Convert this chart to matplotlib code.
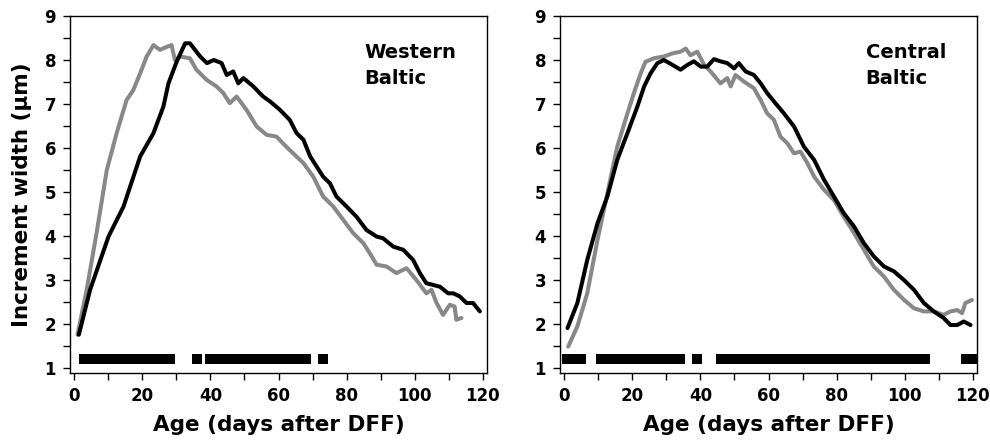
import matplotlib
matplotlib.use("Agg")
import matplotlib.pyplot as plt
from matplotlib.ticker import MultipleLocator

plt.rcParams['font.family'] = ['DejaVu Sans']
plt.rcParams['font.weight'] = 'bold'

# Western Baltic
west_black_x = [1.4, 4.7, 10.1, 14.5, 19.4, 23.3, 26.2, 27.7, 30.1, 32.6, 34, 37, 39, 41, 43.3, 44.8, 46.7, 48.2,
                49.7, 52.6, 55.5, 57.5, 60.4, 63.3, 65.3, 67.3, 69.3, 71.2, 73.1, 75.1, 77, 80, 82.9, 85.8, 88.8,
                90.7, 93.7, 96.6, 99.5, 101.5, 103.4, 105.4, 107.4, 109.8, 111.3, 113.2, 115.2, 117.1, 119.1]
west_black_y = [1.76, 2.78, 3.99, 4.67, 5.81, 6.34, 6.94, 7.47, 7.96, 8.38, 8.38, 8.08, 7.93, 8.0, 7.93, 7.66, 7.74,
                7.47, 7.59, 7.40, 7.17, 7.06, 6.87, 6.64, 6.34, 6.19, 5.81, 5.58, 5.35, 5.20, 4.9, 4.67, 4.44, 4.14,
                3.99, 3.95, 3.76, 3.69, 3.46, 3.16, 2.93, 2.89, 2.85, 2.70, 2.70, 2.63, 2.48, 2.48, 2.29]
west_gray_x = [1, 3.7, 6.6, 9.6, 12.5, 15.4, 17.4, 19.4, 21.3, 23.3, 25.2, 27.2, 28.6, 29.6, 31.1, 34, 35.9, 38.9,
               41.8, 43.8, 45.7, 47.7, 50.6, 53.6, 56.5, 59.4, 62.3, 64.3, 67.3, 70.2, 73.1, 76.1, 79, 81.9, 84.9,
               86.8, 88.8, 91.7, 94.6, 97.6, 100.5, 103.4, 104.9, 106.4, 108.3, 110.3, 111.7, 112.2, 113.7]
west_gray_y = [1.76, 2.78, 4.07, 5.50, 6.34, 7.09, 7.32, 7.70, 8.08, 8.34, 8.23, 8.30, 8.34, 8.0, 8.08, 8.04, 7.78,
               7.55, 7.40, 7.25, 7.02, 7.17, 6.87, 6.49, 6.30, 6.26, 6.03, 5.88, 5.66, 5.35, 4.90, 4.67, 4.37, 4.07,
               3.84, 3.61, 3.35, 3.31, 3.16, 3.27, 3.0, 2.70, 2.78, 2.48, 2.21, 2.44, 2.40, 2.10, 2.14]
west_sig_start = [1.5, 34.5, 38.5, 71.5]
west_sig_end = [29.5, 37.5, 69.5, 74.5]

# Central Baltic
cent_black_x = [1, 3.9, 6.8, 9.8, 12.7, 15.6, 18.6, 21.5, 23.5, 25.4, 27.4, 29.3, 31.8, 34.2, 36.2, 38.1, 40.1, 42,
                44, 45.9, 47.9, 49.9, 51.3, 53.3, 55.7, 57.7, 59.6, 61.6, 64.5, 67.5, 70.4, 73.4, 76.3, 79.2, 82.1,
                85.1, 88, 90.9, 93.9, 96.8, 99.8, 102.7, 105.6, 108.5, 111.4, 113.4, 115.4, 117.3, 119.3]
cent_black_y = [1.91, 2.48, 3.46, 4.29, 4.90, 5.73, 6.34, 6.94, 7.40, 7.70, 7.93, 8.0, 7.89, 7.78, 7.89, 7.97, 7.85,
                7.85, 8.02, 7.97, 7.93, 7.81, 7.93, 7.74, 7.66, 7.47, 7.25, 7.06, 6.79, 6.49, 6.03, 5.73, 5.28, 4.90,
                4.52, 4.22, 3.84, 3.54, 3.31, 3.20, 3.0, 2.78, 2.48, 2.29, 2.14, 1.98, 1.98, 2.06, 1.98]
cent_gray_x = [1.2, 3.9, 6.8, 9.8, 12.7, 15.6, 18.6, 20.5, 22.5, 23.9, 26.4, 29.3, 31.8, 34.2, 35.7, 37.1, 39.1,
               41.1, 43, 45.9, 47.9, 48.9, 50.3, 52.8, 55.7, 57.7, 59.6, 61.6, 63.5, 65.5, 67.5, 69.4, 71.4, 73.4,
               76.3, 79.2, 82.1, 85.1, 88, 90.9, 93.9, 96.8, 99.8, 102.7, 105.6, 108.5, 111.4, 113.4, 115.4, 116.8,
               117.8, 119.7]
cent_gray_y = [1.49, 1.95, 2.70, 3.91, 4.97, 6.03, 6.79, 7.25, 7.70, 7.96, 8.04, 8.08, 8.15, 8.19, 8.26, 8.11, 8.19,
               7.89, 7.74, 7.47, 7.59, 7.40, 7.66, 7.51, 7.36, 7.09, 6.79, 6.64, 6.26, 6.11, 5.88, 5.92, 5.66, 5.35,
               5.05, 4.82, 4.44, 4.07, 3.69, 3.31, 3.08, 2.78, 2.55, 2.36, 2.29, 2.29, 2.21, 2.29, 2.32, 2.25,
               2.48, 2.55]
cent_sig_start = [-0.5, 9.5, 37.5, 44.5, 116.5]
cent_sig_end = [6.5, 35.5, 40.5, 107.5, 121.5]

panels = [
    ("Western\nBaltic", 0.705, west_black_x, west_black_y, west_gray_x, west_gray_y, west_sig_start, west_sig_end),
    ("Central\nBaltic", 0.733, cent_black_x, cent_black_y, cent_gray_x, cent_gray_y, cent_sig_start, cent_sig_end),
]

fig = plt.figure(figsize=(9.9, 4.4), dpi=100)
lefts = [70 / 990, 560 / 990]
for i, (name, tx, bx, by, gx, gy, s0, s1) in enumerate(panels):
    ax = fig.add_axes([lefts[i], 67 / 440, 417 / 990, 357 / 440])
    ax.plot(gx, gy, color='#888888', lw=2.9, solid_joinstyle='round', solid_capstyle='round', zorder=3)
    ax.plot(bx, by, color='black', lw=2.9, solid_joinstyle='round', solid_capstyle='round', zorder=4)
    for a, b in zip(s0, s1):
        ax.barh(1.215, b - a, left=a, height=0.23, color='black', zorder=2)
    ax.set_xlim(-1.2, 121.2)
    ax.set_ylim(0.89, 9)
    ax.xaxis.set_major_locator(MultipleLocator(20))
    ax.xaxis.set_minor_locator(MultipleLocator(10))
    ax.yaxis.set_major_locator(MultipleLocator(1))
    ax.yaxis.set_minor_locator(MultipleLocator(0.5))
    ax.tick_params(axis='both', which='major', direction='out', length=5, width=1, labelsize=12, pad=5)
    ax.tick_params(axis='both', which='minor', direction='out', length=5, width=1)
    for lab in ax.get_xticklabels() + ax.get_yticklabels():
        lab.set_fontweight('bold')
    for sp in ax.spines.values():
        sp.set_linewidth(1)
    ax.set_xlabel("Age (days after DFF)", fontsize=15.5, fontweight='bold', labelpad=7)
    if i == 0:
        ax.set_ylabel("Increment width (μm)", fontsize=15.5, fontweight='bold', labelpad=9)
    ax.text(tx, 0.925, name, transform=ax.transAxes, fontsize=14, fontweight='bold',
            va='top', ha='left', linespacing=1.45)

fig.savefig("out.png", dpi=100)
